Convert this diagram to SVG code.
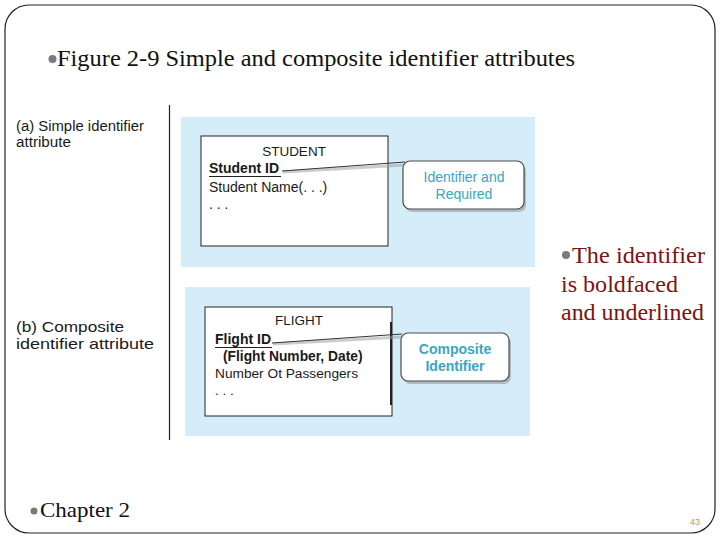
<svg xmlns="http://www.w3.org/2000/svg" width="720" height="540" viewBox="0 0 720 540">
<style>
.serif{font-family:"Liberation Serif","Times New Roman",serif;}
.sans{font-family:"Liberation Sans",Arial,sans-serif;fill:#1a1a1a;}
.panel{fill:#d5edf9;}
.entity{fill:#ffffff;stroke:#222;stroke-width:1;}
.callout{fill:#ffffff;stroke:#4a4a4a;stroke-width:1.2;}
.shadow{fill:#8a8a8a;opacity:0.5;}
.ctext{font-family:"Liberation Sans",Arial,sans-serif;fill:#3aa6c4;font-size:14px;text-anchor:middle;}
.bullet{fill:#7a7a7a;}
.red{fill:#7a1414;font-size:23px;}
</style>
<rect x="0" y="0" width="720" height="540" fill="#ffffff"/>
<rect x="5" y="5" width="710" height="528" rx="24" ry="24" fill="none" stroke="#222" stroke-width="1.2"/>

<g id="title">
<circle class="bullet" cx="52.5" cy="59" r="4"/>
<text class="serif" x="57" y="66" font-size="23" fill="#111" textLength="518" lengthAdjust="spacingAndGlyphs">Figure 2-9 Simple and composite identifier attributes</text>
</g>

<g id="labels">
<text class="sans" x="16" y="131" font-size="14" textLength="128" lengthAdjust="spacingAndGlyphs">(a) Simple identifier</text>
<text class="sans" x="16" y="147" font-size="14" textLength="55" lengthAdjust="spacingAndGlyphs">attribute</text>
<text class="sans" x="16" y="332" font-size="15" textLength="108" lengthAdjust="spacingAndGlyphs">(b) Composite</text>
<text class="sans" x="16" y="349" font-size="15" textLength="138" lengthAdjust="spacingAndGlyphs">identifier attribute</text>
<line x1="169.5" y1="105" x2="169.5" y2="440" stroke="#222" stroke-width="1.2"/>
</g>

<g id="panelA">
<rect class="panel" x="181" y="117" width="354" height="150"/>
</g>
<g id="panelB">
<rect class="panel" x="185" y="287" width="345" height="149"/>
</g>

<g id="student">
<rect class="entity" x="201" y="136" width="187" height="110"/>
<text class="sans" x="294" y="156" font-size="13.5" text-anchor="middle">STUDENT</text>
<text class="sans" x="209" y="173" font-size="14" font-weight="bold">Student ID</text>
<line x1="209" y1="176.5" x2="281" y2="176.5" stroke="#222" stroke-width="1"/>
<text class="sans" x="209" y="192" font-size="14">Student Name(. . .)</text>
<text class="sans" x="209" y="209" font-size="14">. . .</text>
</g>

<g id="flight">
<rect class="entity" x="205" y="307" width="187" height="109"/>
<line x1="391" y1="322" x2="391" y2="405" stroke="#222" stroke-width="2"/>
<text class="sans" x="299" y="325" font-size="13.5" text-anchor="middle">FLIGHT</text>
<text class="sans" x="215" y="344" font-size="14" font-weight="bold">Flight ID</text>
<line x1="215" y1="347.5" x2="272" y2="347.5" stroke="#222" stroke-width="1"/>
<text class="sans" x="223" y="361" font-size="13.8" font-weight="bold">(Flight Number, Date)</text>
<text class="sans" x="215" y="378" font-size="13.7">Number Ot Passengers</text>
<text class="sans" x="215" y="395" font-size="13.5">. . .</text>
</g>

<g id="connectors">
<path d="M283 172 L405 165" stroke="#999" stroke-width="3" opacity="0.5" fill="none"/>
<path d="M282 171 L405 162" stroke="#333" stroke-width="1" fill="none"/>
<path d="M273 344 L402 337" stroke="#999" stroke-width="3" opacity="0.5" fill="none"/>
<path d="M272 343 L402 334" stroke="#333" stroke-width="1" fill="none"/>
</g>

<g id="calloutA">
<rect class="shadow" x="405" y="164" width="121" height="48" rx="7"/>
<rect class="callout" x="403" y="161" width="121" height="48" rx="7"/>
<text class="ctext" x="464" y="182" font-size="15">Identifier and</text>
<text class="ctext" x="464" y="199" font-size="15">Required</text>
</g>

<g id="calloutB">
<rect class="shadow" x="403" y="336" width="108" height="48" rx="7"/>
<rect class="callout" x="401" y="333" width="108" height="48" rx="7"/>
<text class="ctext" x="455" y="354" font-weight="bold">Composite</text>
<text class="ctext" x="455" y="371" font-weight="bold">Identifier</text>
</g>

<g id="note">
<circle class="bullet" cx="566" cy="255" r="4"/>
<text class="serif red" x="572" y="263" textLength="133" lengthAdjust="spacingAndGlyphs">The identifier</text>
<text class="serif red" x="561" y="292" textLength="117" lengthAdjust="spacingAndGlyphs">is boldfaced</text>
<text class="serif red" x="561" y="320" textLength="143" lengthAdjust="spacingAndGlyphs">and underlined</text>
</g>

<g id="footer">
<circle class="bullet" cx="34" cy="511" r="3.5"/>
<text class="serif" x="40" y="517" font-size="21" fill="#111" textLength="90" lengthAdjust="spacingAndGlyphs">Chapter 2</text>
<text class="sans" x="690" y="525" font-size="9" style="fill:#b89a5a">43</text>
</g>
</svg>
